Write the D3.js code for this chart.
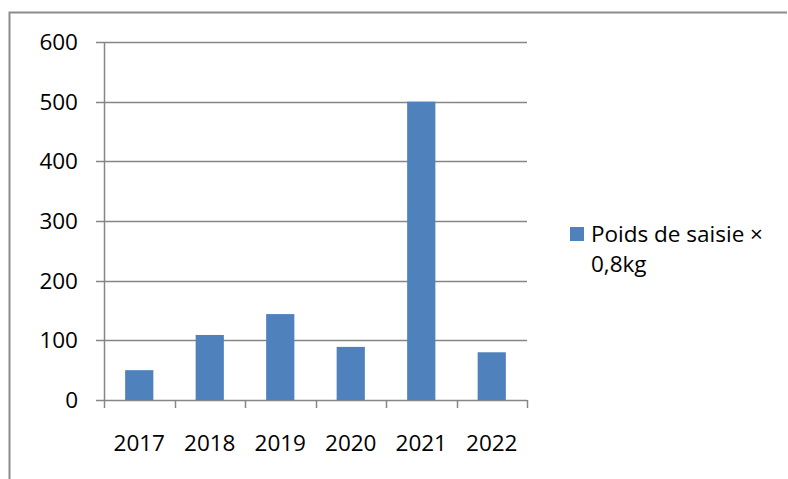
<!DOCTYPE html>
<html>
<head>
<meta charset="utf-8">
<script src="https://cdn.jsdelivr.net/npm/d3@7"></script>
<style>
  body { margin: 0; background: #fff; }
  svg { display: block; font-family: "Open Sans", sans-serif; }
</style>
</head>
<body>
<svg></svg>
<script>
const years = ["2017", "2018", "2019", "2020", "2021", "2022"];
const values = [50, 109, 144, 89, 500, 80];
const yTicks = [0, 100, 200, 300, 400, 500, 600];
const legendLines = ["Poids de saisie ×", "0,8kg"];

const width = 788,
      height = 479,
      margin = { top: 42, right: 261, bottom: 79, left: 104 },
      fontSize = 22.5;

const svg = d3.select("svg")
      .attr("width", width)
      .attr("height", height)
      .attr("viewBox", [0, 0, width, height]);

// outer frame (only left and top edges show)
svg.append("path")
    .attr("d", `M9.5,${height} V12.5 H787`)
    .attr("fill", "none")
    .attr("stroke", "#8c8c8c")
    .attr("stroke-width", 2);

const x = d3.scaleBand()
      .domain(years)
      .range([margin.left, width - margin.right])
      .paddingInner(0.6)
      .paddingOuter(0.3);

const xTick = d3.scaleBand()
      .domain(years)
      .range([margin.left, width - margin.right]);

const y = d3.scaleLinear()
      .domain([0, 600])
      .range([height - margin.bottom, margin.top]);

// gridlines
svg.append("g")
    .selectAll("line")
    .data(yTicks)
    .join("line")
    .attr("x1", margin.left - 8)
    .attr("x2", width - margin.right)
    .attr("y1", d => Math.round(y(d)) + 0.5)
    .attr("y2", d => Math.round(y(d)) + 0.5)
    .attr("stroke", "#868686")
    .attr("stroke-width", 1.5);

// bars
svg.append("g")
    .selectAll("rect")
    .data(values)
    .join("rect")
    .attr("x", (d, i) => x(years[i]))
    .attr("y", d => y(d))
    .attr("width", x.bandwidth())
    .attr("height", d => y(0) - y(d))
    .attr("fill", "#4f81bd");

// y axis line
svg.append("line")
    .attr("x1", margin.left + 0.5)
    .attr("x2", margin.left + 0.5)
    .attr("y1", margin.top)
    .attr("y2", height - margin.bottom)
    .attr("stroke", "#868686")
    .attr("stroke-width", 1.5);

// x tick marks at band boundaries
const bounds = years.map(d => xTick(d)).concat([width - margin.right]);
svg.append("g")
    .selectAll("line")
    .data(bounds)
    .join("line")
    .attr("x1", d => Math.round(d) + 0.5)
    .attr("x2", d => Math.round(d) + 0.5)
    .attr("y1", y(0))
    .attr("y2", y(0) + 8)
    .attr("stroke", "#868686")
    .attr("stroke-width", 1.5);

// y labels
svg.append("g")
    .selectAll("text")
    .data(yTicks)
    .join("text")
    .attr("x", 78)
    .attr("y", d => y(d))
    .attr("dy", "0.36em")
    .attr("text-anchor", "end")
    .attr("font-size", fontSize)
    .attr("fill", "#000")
    .text(d => d);

// x labels
svg.append("g")
    .selectAll("text")
    .data(years)
    .join("text")
    .attr("x", d => xTick(d) + xTick.bandwidth() / 2)
    .attr("y", 451)
    .attr("text-anchor", "middle")
    .attr("font-size", fontSize)
    .attr("fill", "#000")
    .text(d => d);

// legend
const legend = svg.append("g");
legend.append("rect")
    .attr("x", 570)
    .attr("y", 227)
    .attr("width", 14)
    .attr("height", 14)
    .attr("fill", "#4f81bd");
legend.selectAll("text")
    .data(legendLines)
    .join("text")
    .attr("x", 591)
    .attr("y", (d, i) => 242 + i * 30)
    .attr("font-size", fontSize)
    .attr("fill", "#000")
    .text(d => d);
</script>
</body>
</html>
